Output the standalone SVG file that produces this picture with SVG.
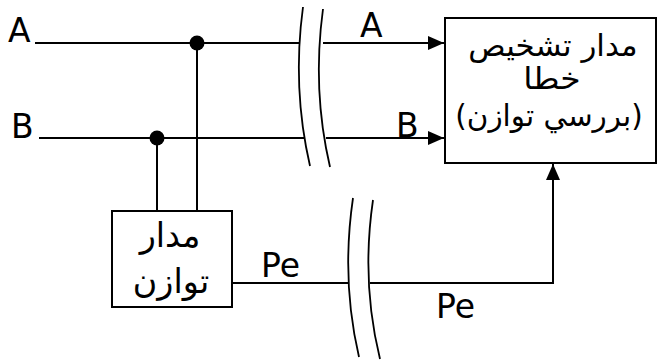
<svg xmlns="http://www.w3.org/2000/svg" width="657" height="363" viewBox="0 0 657 363">
<style>
.w{stroke:#000;stroke-width:2;fill:none}
.arc{stroke:#000;stroke-width:1.8;fill:none}
.box{stroke:#000;stroke-width:2;fill:#fff}
.t{font-family:"DejaVu Sans",sans-serif;font-size:33px;fill:#000}
.ar{font-family:"DejaVu Sans",sans-serif;font-size:30px;fill:#000;text-anchor:middle}
.ar2{font-family:"DejaVu Sans",sans-serif;font-size:34px;fill:#000;text-anchor:middle}
</style>
<defs>
<marker id="ah" viewBox="0 0 16 14" refX="16" refY="7" markerWidth="16" markerHeight="14" markerUnits="userSpaceOnUse" orient="auto">
<path d="M0,0 L16,7 L0,14 Z" fill="#000"/>
</marker>
</defs>
<g id="connectors">
<line class="w" x1="35" y1="43" x2="300" y2="43"/>
<line class="w" x1="39" y1="138" x2="304" y2="138"/>
<line class="w" x1="197" y1="43" x2="197" y2="211"/>
<line class="w" x1="157" y1="138" x2="157" y2="211"/>
<circle cx="197" cy="43" r="7.5" fill="#000"/>
<circle cx="157" cy="138" r="7.5" fill="#000"/>
<line class="w" x1="323" y1="43" x2="444" y2="43" marker-end="url(#ah)"/>
<line class="w" x1="326" y1="138" x2="444" y2="138" marker-end="url(#ah)"/>
<line class="w" x1="232" y1="283" x2="348" y2="283"/>
<polyline class="w" points="370,283 553,283 553,164" marker-end="url(#ah)"/>
<path class="arc" d="M303,7 Q292,88 310,166"/>
<path class="arc" d="M323,9 Q312,90 330,167"/>
<path class="arc" d="M353,198 Q341,280 359,357"/>
<path class="arc" d="M373,200 Q361,282 380,359"/>
<text class="t" x="8" y="42">A</text>
<text class="t" x="11" y="138">B</text>
<text class="t" x="360" y="37">A</text>
<text class="t" x="396" y="137">B</text>
<text class="t" x="261" y="277">Pe</text>
<text class="t" x="436" y="318">Pe</text>
</g>
<g id="detector">
<rect class="box" x="445" y="18" width="211" height="145"/>
<text class="ar" transform="translate(553,56) scale(1.03,1)">مدار تشخيص</text>
<text class="ar" transform="translate(552,89) scale(1.1,1)">خطا</text>
<text class="ar" transform="translate(549,126) scale(0.98,1)">(بررسي توازن)</text>
</g>
<g id="balance">
<rect class="box" x="112" y="211" width="120" height="96"/>
<text class="ar2" transform="translate(170,247) scale(0.98,1)">مدار</text>
<text class="ar2" transform="translate(171,293) scale(0.98,1)">توازن</text>
</g>
</svg>
